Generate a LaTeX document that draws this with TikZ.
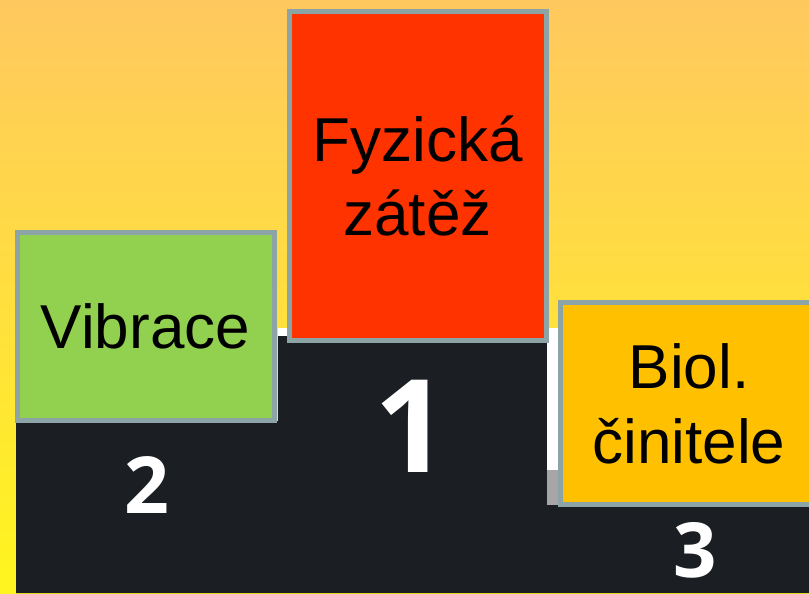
\documentclass[tikz,border=0pt]{standalone}
\usepackage{fontspec}
\setmainfont{Liberation Sans}
\newfontfamily\digitfont{Open Sans}
\usepackage{tikz}
\usetikzlibrary{positioning}

\definecolor{bgtop}{HTML}{FFC85F}
\definecolor{bgbottom}{HTML}{FFF51E}
\definecolor{podium}{HTML}{1B1F24}
\definecolor{frame}{HTML}{8DA4A6}
\definecolor{first}{HTML}{FF3300}
\definecolor{second}{HTML}{92D050}
\definecolor{third}{HTML}{FFC000}

\begin{document}
\begin{tikzpicture}[x=0.75pt,y=-0.75pt]
		\tikzstyle{Box}		= [rectangle, draw=frame, line width=3.75pt, inner sep=0pt, minimum width=192.75pt, align=center, font=\fontsize{46.5}{56}\selectfont]
		\tikzstyle{Place}	= [text=white, inner sep=0pt, font=\digitfont\bfseries]

		% background and podium
		\useasboundingbox (0,0) rectangle (809,593);
		\shade [top color=bgtop, bottom color=bgbottom] (0,0) rectangle (809,593);
		\fill [podium] (16,593) -- (16,421) -- (278,421) -- (278,333) -- (552,333) -- (552,505) -- (809,505) -- (809,593) -- cycle;
		\fill [white] (278,328) rectangle (290,336);
		\fill [white] (547,328) rectangle (558,470);
		\fill [gray!70] (547,470) rectangle (558,505);

		\node (n1) at (411,426) [Place, font=\digitfont\bfseries\fontsize{97}{97}\selectfont] {1};
		\node (n2) at (147,485) [Place, font=\digitfont\bfseries\fontsize{59}{59}\selectfont] {2};
		\node (n3) at (695,550) [Place, font=\digitfont\bfseries\fontsize{57}{57}\selectfont] {3};

		\node (vib) at (145.5,326.5) [Box, fill=second, minimum height=141pt] {Vibrace};
		\node (fyz) at (417.5,176) [Box, fill=first, minimum height=246.75pt] {Fyzická\\zátěž};
		\node (bio) at (689,403.5) [Box, fill=third, minimum height=151.5pt] {Biol.\\činitele};
\end{tikzpicture}
\end{document}
